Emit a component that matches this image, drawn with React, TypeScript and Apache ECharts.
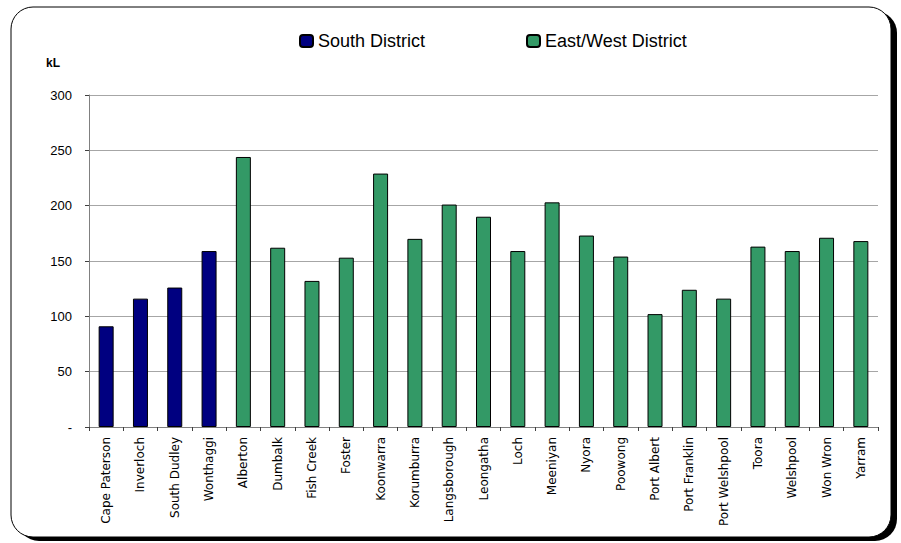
import React, { useEffect, useRef } from "react";
import * as echarts from "echarts";

const categories = [
  "Cape Paterson", "Inverloch", "South Dudley", "Wonthaggi",
  "Alberton", "Dumbalk", "Fish Creek", "Foster", "Koonwarra", "Korumburra",
  "Langsborough", "Leongatha", "Loch", "Meeniyan", "Nyora", "Poowong",
  "Port Albert", "Port Franklin", "Port Welshpool", "Toora", "Welshpool",
  "Won Wron", "Yarram",
];

const southValues: (number | string)[] = [
  91, 116, 126, 159,
  "-", "-", "-", "-", "-", "-", "-", "-", "-", "-", "-", "-", "-", "-", "-", "-", "-", "-", "-",
];

const eastWestValues: (number | string)[] = [
  "-", "-", "-", "-",
  244, 162, 132, 153, 229, 170, 201, 190, 159, 203, 173, 154,
  102, 124, 116, 163, 159, 171, 168,
];

const yTicks = [0, 50, 100, 150, 200, 250, 300];

export default function App() {
  const ref = useRef<HTMLDivElement>(null);
  useEffect(() => {
    document.body.style.margin = "0";
    const chart = echarts.init(ref.current!, null, { renderer: "svg" });
    const axisFont = "Liberation Sans, Arial, sans-serif";
    chart.setOption({
      animation: false,
      backgroundColor: "#ffffff",
      graphic: [
        {
          type: "rect",
          z: -10,
          shape: { x: 17, y: 11, width: 880, height: 530, r: 22 },
          style: { fill: "#000000" },
          silent: true,
        },
        {
          type: "rect",
          z: -9,
          shape: { x: 11, y: 7, width: 880, height: 530, r: 22 },
          style: { fill: "#ffffff", stroke: "#000000", lineWidth: 1 },
          silent: true,
        },
        {
          type: "text",
          x: 46,
          y: 63,
          style: {
            text: "kL",
            fontSize: 12,
            fontWeight: "bold",
            fontFamily: axisFont,
            fill: "#000",
            textVerticalAlign: "middle",
          },
        },
      ],
      legend: [
        {
          data: ["South District"],
          left: 299,
          top: 32,
          padding: 0,
          itemWidth: 13,
          itemHeight: 12,
          textStyle: { fontSize: 18, fontFamily: axisFont, color: "#000", lineHeight: 18 },
        },
        {
          data: ["East/West District"],
          left: 526,
          top: 32,
          padding: 0,
          itemWidth: 13,
          itemHeight: 12,
          textStyle: { fontSize: 18, fontFamily: axisFont, color: "#000", lineHeight: 18 },
        },
      ],
      grid: { left: 89, right: 23, top: 95, bottom: 116 },
      xAxis: {
        type: "category",
        data: categories,
        axisLine: { lineStyle: { color: "#808080", width: 1 } },
        axisTick: { show: true, length: 4, lineStyle: { color: "#404040" } },
        axisLabel: {
          rotate: 90,
          interval: 0,
          margin: 10,
          fontSize: 12,
          fontFamily: "DejaVu Sans, sans-serif",
          color: "#000",
        },
      },
      yAxis: {
        type: "value",
        min: 0,
        max: 300,
        interval: 50,
        axisLine: { show: true, lineStyle: { color: "#808080", width: 1 } },
        axisTick: { show: true, length: 4, lineStyle: { color: "#404040" } },
        splitLine: { lineStyle: { color: "#a6a6a6", width: 1 } },
        axisLabel: {
          margin: 17,
          fontSize: 13,
          fontFamily: axisFont,
          color: "#000",
          formatter: (v: number) => (yTicks.includes(v) && v === 0 ? "-" : String(v)),
        },
      },
      series: [
        {
          name: "South District",
          type: "bar",
          data: southValues,
          barWidth: 15,
          barGap: "-100%",
          itemStyle: { color: "#000080", borderColor: "#000000", borderWidth: 1 },
        },
        {
          name: "East/West District",
          type: "bar",
          data: eastWestValues,
          barWidth: 15,
          barGap: "-100%",
          itemStyle: { color: "#339966", borderColor: "#000000", borderWidth: 1 },
        },
      ],
    });
    return () => chart.dispose();
  }, []);
  return <div ref={ref} style={{ width: 901, height: 543 }} />;
}
